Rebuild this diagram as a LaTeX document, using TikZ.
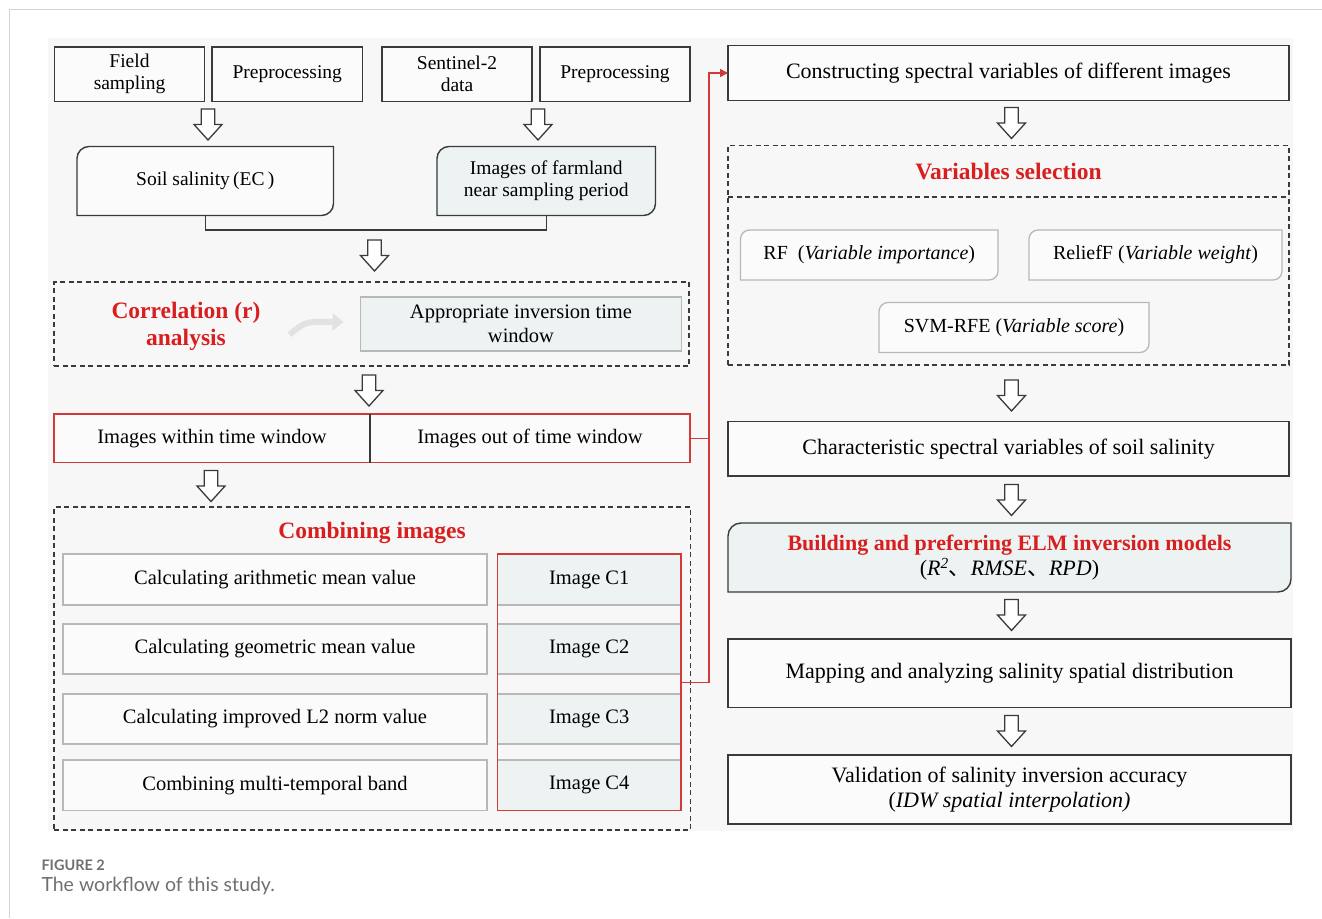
\documentclass[tikz,border=0pt]{standalone}
\usepackage{fontspec}
\setmainfont{Liberation Serif}
\newfontfamily\capfont{Lato}
\newfontfamily\cjk{Noto Sans CJK SC}
\usetikzlibrary{calc,arrows.meta}
\definecolor{bgpanel}{HTML}{F7F7F7}
\definecolor{boxfill}{HTML}{FBFBFB}
\definecolor{bluefill}{HTML}{EDF3F3}
\definecolor{darkline}{HTML}{3A3A3A}
\definecolor{greyline}{HTML}{B8B8B8}
\definecolor{redline}{HTML}{D03A3A}
\definecolor{redtext}{HTML}{D81E1E}
\definecolor{frameline}{HTML}{D4D4D4}
\definecolor{captext}{HTML}{707070}
\definecolor{swoosh}{HTML}{E2E2E2}
\pgfdeclarelayer{back}
\pgfsetlayers{back,main}
\newcommand{\szA}{\fontsize{19.5}{22}\selectfont}
\newcommand{\szB}{\fontsize{20.5}{24}\selectfont}
\newcommand{\szC}{\fontsize{22}{25.7}\selectfont}
\newcommand{\szT}{\fontsize{23.5}{26.7}\selectfont\bfseries}
\newcommand{\mkbox}[7]{\node[#6, minimum width={#4-#2}, minimum height={#5-#3}] (#1) at ({(#2+#4)/2},{(#3+#5)/2}) {#7};}
\newcommand{\twocorner}[3]{\begin{pgfonlayer}{back}\draw[#2] (#1.west) [rounded corners=#3] -- (#1.north west) [sharp corners] -- (#1.north east) [rounded corners=#3] -- (#1.south east) [sharp corners] -- (#1.south west) -- cycle;\end{pgfonlayer}}
\tikzset{
  harrow/.pic={\draw[darkline, line width=1.3pt, fill=white, line join=miter]
     (-6.75,-15.5) -- (6.75,-15.5) -- (6.75,0) -- (14,0) -- (0,15.5) -- (-14,0) -- (-6.75,0) -- cycle;},
  mainbox/.style={draw=darkline, line width=1.4pt, fill=boxfill, font=\szC},
  topbox/.style={draw=darkline, line width=1.4pt, fill=boxfill, font=\szA},
  dashbox/.style={draw=darkline, line width=1.3pt, dash pattern=on 5pt off 3.5pt},
  rowbox/.style={draw=greyline, line width=1.3pt, fill=boxfill, font=\szB},
  cbox/.style={draw=greyline, line width=1.3pt, fill=bluefill, font=\szB},
  titletext/.style={font=\szT, text=redtext},
  redL/.style={draw=redline, line width=1.5pt},
}
\begin{document}
\begin{tikzpicture}[x=1pt, y=-1pt, every node/.style={inner sep=0pt, outer sep=0pt, align=center}]
\useasboundingbox (0,0) rectangle (1322,918);
\begin{pgfonlayer}{back}
\fill[white] (0,0) rectangle (1322,918);
\fill[bgpanel] (48,38) rectangle (1293,831);
\end{pgfonlayer}
\draw[frameline, line width=1.5pt] (9.5,918) -- (9.5,9.5) -- (1322,9.5);

% ---- left column ----
\mkbox{fs}{54.5}{47}{204.5}{101.5}{topbox}{Field\\sampling}
\mkbox{pp1}{212}{47}{362.5}{101.5}{topbox}{Preprocessing}
\mkbox{s2}{382}{47}{532}{101.5}{topbox}{Sentinel-2\\data}
\mkbox{pp2}{540}{47}{690}{101.5}{topbox}{Preprocessing}

\mkbox{soil}{77}{146.5}{333.5}{215.5}{font=\szA}{Soil salinity\,(EC\,)}
\twocorner{soil}{darkline, line width=1.4pt, fill=boxfill}{12pt}
\mkbox{farm}{437}{146.5}{655.5}{215.5}{font=\szA}{Images of farmland\\near sampling period}
\twocorner{farm}{darkline, line width=1.4pt, fill=bluefill}{12pt}

\pic at (208,124.5) {harrow};
\pic at (538,124.5) {harrow};

\draw[darkline, line width=1.4pt] (soil.south) -- ++(0,14.5) coordinate (joinL) -| (farm.south);
\pic at (374.5,255.5) {harrow};

\mkbox{corrbox}{54}{282}{689}{366}{dashbox}{}
\node[titletext, font=\szT\fontsize{23.5}{27}\selectfont] (corr) at (186,326.5) {Correlation (r)\\analysis};
\mkbox{approp}{360.5}{297}{681.5}{351}{draw=greyline, line width=1.3pt, fill=bluefill, font=\fontsize{20.5}{24}\selectfont}{Appropriate inversion time\\window}
\draw[swoosh, line width=6pt, -{Triangle[length=11pt,width=17pt]}] ($(corr.east)+(29,8)$) .. controls ($(corr.east)+(45,-5)$) .. ($(approp.west)+(-17,-2)$);

\pic at (369,390.5) {harrow};

\mkbox{within}{54}{414}{370}{462.5}{fill=boxfill, font=\szB}{Images within time window}
\mkbox{outw}{370}{414}{690}{462.5}{fill=boxfill, font=\szB}{Images out of time window}
\draw[redL] (within.north west) rectangle (outw.south east);
\draw[darkline, line width=1.3pt] (within.north east) -- (within.south east);

\pic at (211,486) {harrow};

\mkbox{combo}{54}{507}{690.5}{830}{dashbox}{}
\node[titletext] (ctitle) at (372,533) {Combining images};
\mkbox{r1}{63}{554}{487}{605}{rowbox}{Calculating arithmetic mean value}
\mkbox{r2}{63}{624}{487}{674}{rowbox}{Calculating geometric mean value}
\mkbox{r3}{63}{694}{487}{744}{rowbox}{Calculating improved L2 norm value}
\mkbox{r4}{63}{760}{487}{810.5}{rowbox}{Combining multi-temporal band}
\mkbox{c1}{497.5}{554}{681}{605}{cbox}{Image C1}
\mkbox{c2}{497.5}{624}{681}{674}{cbox}{Image C2}
\mkbox{c3}{497.5}{694}{681}{744}{cbox}{Image C3}
\mkbox{c4}{497.5}{760}{681}{810.5}{cbox}{Image C4}
\draw[redL] (c1.north west) rectangle (c4.south east);

% ---- right column ----
\mkbox{cons}{728}{45.5}{1289}{100.5}{mainbox}{Constructing spectral variables of different images}
\pic at (1011.5,123) {harrow};
\mkbox{vsel}{728}{145.5}{1289}{365}{dashbox}{}
\draw[dashbox] (vsel.west |- 0,197) -- (vsel.east |- 0,197);
\node[titletext] (vtitle) at (1008.5,171.5) {Variables selection};
\mkbox{rf}{740.5}{230}{998}{280}{font=\fontsize{20}{24}\selectfont}{RF\ \ (\textit{Variable importance})}
\twocorner{rf}{greyline, line width=1.3pt, fill=boxfill}{9pt}
\mkbox{relief}{1029}{230}{1282}{280}{font=\fontsize{20}{24}\selectfont}{ReliefF (\textit{Variable weight})}
\twocorner{relief}{greyline, line width=1.3pt, fill=boxfill}{9pt}
\mkbox{svm}{879}{302.5}{1149}{352.5}{font=\fontsize{20}{24}\selectfont}{SVM-RFE (\textit{Variable score})}
\twocorner{svm}{greyline, line width=1.3pt, fill=boxfill}{9pt}

\pic at (1011.5,395.5) {harrow};
\mkbox{charac}{728}{421.5}{1289}{476}{mainbox}{Characteristic spectral variables of soil salinity}
\pic at (1011.5,500) {harrow};
\mkbox{build}{728}{523}{1291}{592}{font=\szC}{{\szT\fontsize{22}{25.7}\selectfont\color{redtext}Building and preferring ELM inversion models}\\(\textit{R}\textsuperscript{\textit{2}}{\cjk 、}\textit{RMSE}{\cjk 、}\textit{RPD})}
\twocorner{build}{darkline, line width=1.4pt, fill=bluefill}{13pt}
\pic at (1011.5,615) {harrow};
\mkbox{mapb}{728}{639}{1291}{707.5}{mainbox}{Mapping and analyzing salinity spatial distribution}
\pic at (1011.5,731) {harrow};
\mkbox{valid}{728}{755}{1291}{824}{mainbox}{Validation of salinity inversion accuracy\\(\textit{IDW spatial interpolation)}}

% ---- red connectors ----
\draw[redL, -{Triangle[length=8pt,width=8pt]}] ($(c1.north east)!.5!(c4.south east)$) -- ++(28,0) coordinate (trunk) |- (cons.west);
\draw[redL] (outw.east) -- (outw.east -| trunk);

% ---- caption ----
\node[anchor=base west, font=\capfont\bfseries\fontsize{14.5}{16}\selectfont, text=captext] (figlabel) at (41.5,870) {FIGURE 2};
\node[anchor=base west, font=\capfont\fontsize{19.5}{22}\selectfont, text=captext] (figcap) at (41.5,891) {The workflow of this study.};
\end{tikzpicture}
\end{document}
